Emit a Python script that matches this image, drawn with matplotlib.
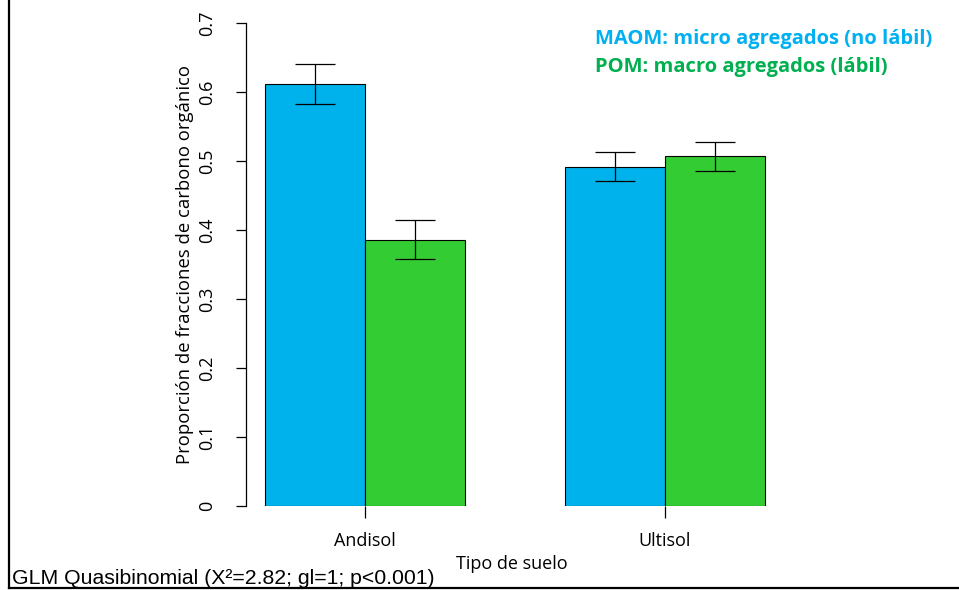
#!/usr/bin/env python3
"""Proporción de fracciones de carbono orgánico por tipo de suelo."""

import matplotlib
matplotlib.use('Agg')
import matplotlib.pyplot as plt
from matplotlib.lines import Line2D

# Data
suelos = ['Andisol', 'Ultisol']
maom = [0.612, 0.492]
maom_err = [0.029, 0.021]
pom = [0.386, 0.507]
pom_err = [0.028, 0.021]
yticks = [0, 0.1, 0.2, 0.3, 0.4, 0.5, 0.6, 0.7]

# Colors
blue_bar = '#00B2EB'
green_bar = '#33CC33'
blue_txt = '#00B0F0'
green_txt = '#00B050'

W, H = 959, 590
fig = plt.figure(figsize=(W / 100, H / 100), dpi=100)
fig.patch.set_facecolor('white')

# axes: x from pixel 246 to 778, y from 506 (0) to 23 (0.7)
ax = fig.add_axes([246 / W, (H - 506) / H, (778 - 246) / W, (506 - 23) / H])

x_groups = [1.0, 4.0]
x_maom = [g - 0.5 for g in x_groups]
x_pom = [g + 0.5 for g in x_groups]

ax.bar(x_maom, maom, width=1.0, color=blue_bar, edgecolor='black', linewidth=0.8)
ax.bar(x_pom, pom, width=1.0, color=green_bar, edgecolor='black', linewidth=0.8)
ax.errorbar(x_maom, maom, yerr=maom_err, fmt='none', ecolor='black',
            elinewidth=0.9, capsize=14.4, capthick=0.9)
ax.errorbar(x_pom, pom, yerr=pom_err, fmt='none', ecolor='black',
            elinewidth=0.9, capsize=14.4, capthick=0.9)

ax.set_xlim(-0.19, 5.13)
ax.set_ylim(0, 0.7)

for s in ['top', 'right', 'bottom']:
    ax.spines[s].set_visible(False)
ax.spines['left'].set_linewidth(0.9)

ax.set_yticks(yticks)
ax.set_yticklabels(['0', '0.1', '0.2', '0.3', '0.4', '0.5', '0.6', '0.7'],
                   rotation=90, va='center', fontsize=13, family='Open Sans')
ax.tick_params(axis='y', length=7.2, width=0.9, pad=14)

ax.set_xticks(x_groups)
ax.set_xticklabels(suelos, fontsize=13, family='Open Sans')
ax.tick_params(axis='x', length=8.6, width=0.9, pad=10)

ax.set_ylabel('Proporción de fracciones de carbono orgánico', fontsize=13.3,
              family='Open Sans', labelpad=3)
ax.set_xlabel('Tipo de suelo', fontsize=13, family='Open Sans', labelpad=4)

# Legend as coloured text
fig.text(595 / W, 1 - 39 / H, 'MAOM: micro agregados (no lábil)', color=blue_txt,
         fontsize=14.5, fontweight='bold', family='Open Sans', va='center')
fig.text(595 / W, 1 - 67 / H, 'POM: macro agregados (lábil)', color=green_txt,
         fontsize=14.5, fontweight='bold', family='Open Sans', va='center')

# Footnote
fig.text(12 / W, 1 - 578 / H, 'GLM Quasibinomial (X²=2.82; gl=1; p<0.001)',
         fontsize=15.3, family='Liberation Sans', va='center')

# Frame lines (left and bottom)
fig.add_artist(Line2D([8.5 / W, 8.5 / W], [1 - 588 / H, 1.0], color='black',
                      linewidth=1.6, transform=fig.transFigure))
fig.add_artist(Line2D([8.5 / W, 1.0], [1 - 588 / H, 1 - 588 / H], color='black',
                      linewidth=1.6, transform=fig.transFigure))

plt.savefig('out.png', dpi=100)
plt.close()
